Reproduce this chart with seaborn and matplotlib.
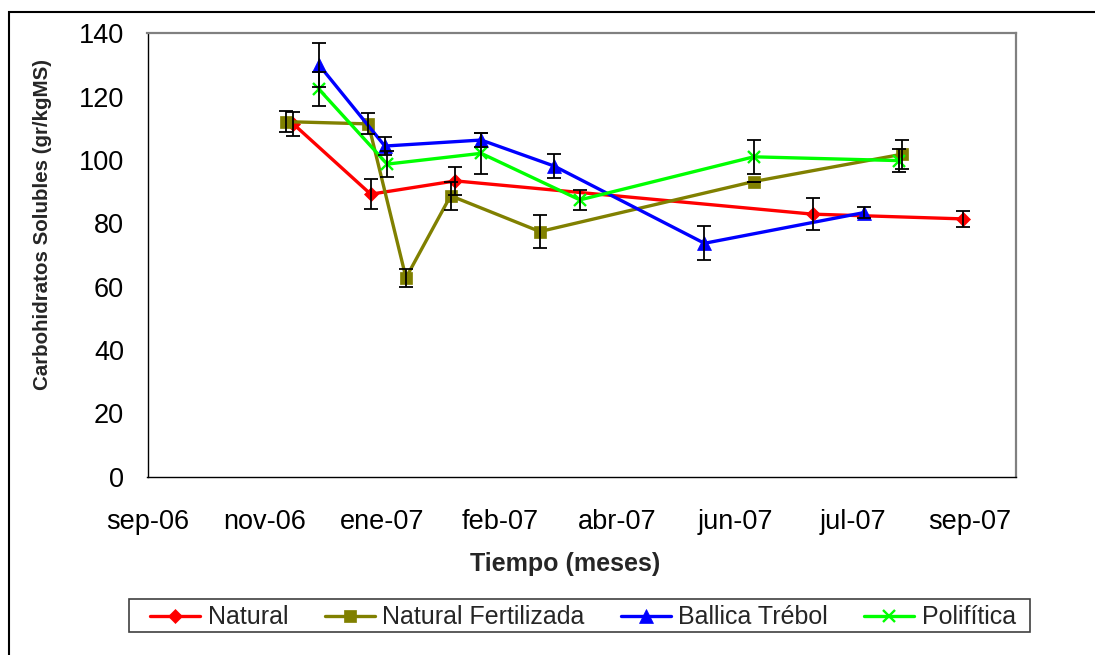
import numpy as np
import pandas as pd
import matplotlib
matplotlib.use("Agg")
import matplotlib.pyplot as plt
from matplotlib.patches import Rectangle
import seaborn as sns

# --- data -------------------------------------------------------------
series = ["Natural", "Natural Fertilizada", "Ballica Trébol", "Polifítica"]

natural_dates = ["2006-11-28", "2006-12-31", "2007-02-05", "2007-07-07", "2007-09-09"]
natural_vals = [111.4, 89.2, 93.4, 82.9, 81.4]
natural_err = [3.7, 4.7, 4.3, 5.1, 2.5]

fert_dates = ["2006-11-25", "2006-12-30", "2007-01-15", "2007-02-03",
              "2007-03-13", "2007-06-12", "2007-08-14"]
fert_vals = [112.1, 111.4, 62.8, 88.7, 77.4, 93.2, 101.8]
fert_err = [3.3, 3.3, 2.9, 4.5, 5.2, 0.0, 4.5]

ballica_dates = ["2006-12-09", "2007-01-06", "2007-02-16", "2007-03-19",
                 "2007-05-22", "2007-07-29"]
ballica_vals = [130.0, 104.4, 106.3, 98.1, 73.7, 83.4]
ballica_err = [7.0, 2.8, 2.3, 3.7, 5.4, 1.7]

poli_dates = ["2006-12-09", "2007-01-07", "2007-02-16", "2007-03-30",
              "2007-06-12", "2007-08-13"]
poli_vals = [122.3, 98.7, 102.1, 87.4, 101.0, 99.8]
poli_err = [5.4, 4.0, 6.4, 3.2, 5.3, 3.7]

tick_dates = ["2006-09-27", "2006-11-16", "2007-01-05", "2007-02-24",
              "2007-04-15", "2007-06-04", "2007-07-24", "2007-09-12"]
tick_labels = ["sep-06", "nov-06", "ene-07", "feb-07",
               "abr-07", "jun-07", "jul-07", "sep-07"]
y_ticks = [0, 20, 40, 60, 80, 100, 120, 140]

# --- long-form table ----------------------------------------------------
parts = []
for name, d, v, e in [
    (series[0], natural_dates, natural_vals, natural_err),
    (series[1], fert_dates, fert_vals, fert_err),
    (series[2], ballica_dates, ballica_vals, ballica_err),
    (series[3], poli_dates, poli_vals, poli_err),
]:
    parts.append(pd.DataFrame({"fecha": pd.to_datetime(d), "valor": v,
                               "error": e, "serie": name}))
df = pd.concat(parts, ignore_index=True)

palette = {"Natural": "#FF0000", "Natural Fertilizada": "#808000",
           "Ballica Trébol": "#0000FF", "Polifítica": "#00FF00"}
markers = {"Natural": "D", "Natural Fertilizada": "s",
           "Ballica Trébol": "^", "Polifítica": "x"}
msize = {"Natural": 7.5, "Natural Fertilizada": 8,
         "Ballica Trébol": 9.5, "Polifítica": 9}

# --- figure -------------------------------------------------------------
sns.set_theme(style="white")
plt.rcParams["font.family"] = ["Liberation Sans", "DejaVu Sans"]

fig = plt.figure(figsize=(10.95, 6.55), dpi=100)
ax = fig.add_axes([147.5 / 1095, 1 - 476.7 / 655,
                   (1016 - 147.5) / 1095, (476.7 - 33.3) / 655])

handles = []
for name in series:
    sub = df[df["serie"] == name]
    c = palette[name]
    n_before = len(ax.lines)
    sns.lineplot(data=sub, x="fecha", y="valor", color=c,
                 marker=markers[name], markersize=msize[name],
                 markerfacecolor=c, markeredgecolor=c,
                 markeredgewidth=1.7 if name == "Polifítica" else 0.5,
                 estimator=None, sort=True, linewidth=2.4, ax=ax,
                 legend=False, zorder=2)
    handles.append(ax.lines[n_before])

# error bars in black over every point
for name in series:
    sub = df[df["serie"] == name]
    ax.errorbar(sub["fecha"], sub["valor"], yerr=sub["error"], fmt="none",
                ecolor="black", elinewidth=1.3, capsize=4.8, capthick=1.3,
                zorder=3)

# --- axes ---------------------------------------------------------------
start = pd.Timestamp(tick_dates[0])
ax.set_xlim(start, start + pd.Timedelta(days=369.6))
ax.set_ylim(0, 140)
ax.set_xticks(pd.to_datetime(tick_dates))
ax.set_xticklabels(tick_labels)
ax.set_yticks(y_ticks)
ax.tick_params(axis="both", direction="out", length=6, width=1,
               color="black", labelsize=19.5, labelcolor="black")
ax.tick_params(axis="x", pad=17)
ax.tick_params(axis="y", pad=11)

for side in ("left", "bottom"):
    ax.spines[side].set_color("black")
    ax.spines[side].set_linewidth(1.0)
for side in ("top", "right"):
    ax.spines[side].set_visible(True)
    ax.spines[side].set_color("#808080")
    ax.spines[side].set_linewidth(1.6)

ax.set_xlabel("Tiempo (meses)", fontsize=18, fontweight="bold")
ax.xaxis.label.set_va("center")
ax.xaxis.set_label_coords((565.5 - 147.5) / 868.5, (476.7 - 564) / 443.4)
ax.set_ylabel("Carbohidratos Solubles (gr/kgMS)", fontsize=14.8,
              fontweight="bold")
ax.yaxis.label.set_va("center")
ax.yaxis.set_label_coords((43 - 147.5) / 868.5, (476.7 - 225) / 443.4)

# --- legend -------------------------------------------------------------
box_l, box_r, box_t, box_b = 128.7, 1030, 599.3, 631.7
fig.patches.append(Rectangle((box_l / 1095, 1 - box_b / 655),
                             (box_r - box_l) / 1095, (box_b - box_t) / 655,
                             transform=fig.transFigure, fill=False,
                             edgecolor="#404040", linewidth=1.2))
leg = fig.legend(handles, series, loc="center",
                 bbox_to_anchor=(583 / 1095, 1 - 617.5 / 655),
                 ncol=4, fontsize=18, frameon=False,
                 borderaxespad=0, borderpad=0.0,
                 handlelength=2.0, handletextpad=0.3, columnspacing=1.45)

# outer chart border (top and left edges visible)
fig.patches.append(Rectangle((8.5 / 1095, -0.1), 1.2, 1.1 - 12 / 655,
                             transform=fig.transFigure, fill=False,
                             edgecolor="black", linewidth=1.5))

fig.savefig("out.png", dpi=100, facecolor="white")
